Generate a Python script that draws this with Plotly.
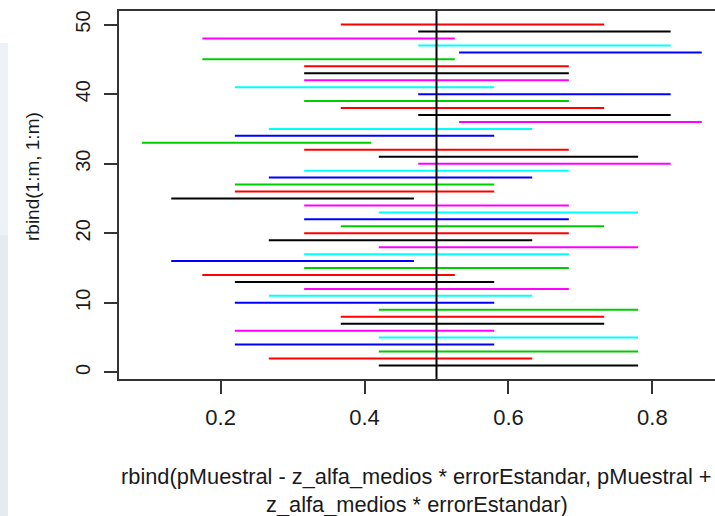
import plotly.graph_objects as go

# interval index (y) and endpoints (x)
idx = list(range(1, 51))
lower = [0.4198, 0.2670, 0.4198, 0.2198, 0.4198, 0.2198, 0.3670, 0.3670, 0.4198, 0.2198,
         0.2670, 0.3161, 0.2198, 0.1746, 0.3161, 0.1314, 0.3161, 0.4198, 0.2670, 0.3161,
         0.3670, 0.3161, 0.4198, 0.3161, 0.1314, 0.2198, 0.2198, 0.2670, 0.3161, 0.4746,
         0.4198, 0.3161, 0.0907, 0.2198, 0.2670, 0.5314, 0.4746, 0.3670, 0.3161, 0.4746,
         0.2198, 0.3161, 0.3161, 0.3161, 0.1746, 0.5314, 0.4746, 0.1746, 0.4746, 0.3670]
upper = [0.7802, 0.6330, 0.7802, 0.5802, 0.7802, 0.5802, 0.7330, 0.7330, 0.7802, 0.5802,
         0.6330, 0.6839, 0.5802, 0.5254, 0.6839, 0.4686, 0.6839, 0.7802, 0.6330, 0.6839,
         0.7330, 0.6839, 0.7802, 0.6839, 0.4686, 0.5802, 0.5802, 0.6330, 0.6839, 0.8254,
         0.7802, 0.6839, 0.4093, 0.5802, 0.6330, 0.8686, 0.8254, 0.7330, 0.6839, 0.8254,
         0.5802, 0.6839, 0.6839, 0.6839, 0.5254, 0.8686, 0.8254, 0.5254, 0.8254, 0.7330]
p_true = 0.5
palette = ["#000000", "#FF0000", "#00CD00", "#0000FF", "#00FFFF", "#FF00FF"]
x_ticks = [0.2, 0.4, 0.6, 0.8]
y_ticks = [0, 10, 20, 30, 40, 50]

W, H = 715, 516
L, R, T, B = 119, 0, 11, 137
pw, ph = W - L - R, H - T - B

def px(xp):
    return (xp - L) / pw

def py(yp):
    return (H - B - yp) / ph

fig = go.Figure()
for c in range(6):
    xs, ys = [], []
    for k, i in enumerate(idx):
        if (i - 1) % 6 == c:
            xs += [lower[k], upper[k], None]
            ys += [i, i, None]
    fig.add_trace(go.Scatter(x=xs, y=ys, mode="lines", line=dict(color=palette[c], width=2),
                             showlegend=False, hoverinfo="skip"))

fig.add_shape(type="line", xref="x", yref="paper", x0=p_true, x1=p_true, y0=0, y1=1,
              line=dict(color="#000000", width=2), layer="above")

# faint left strip from the screenshot
fig.add_shape(type="rect", xref="paper", yref="paper", x0=px(0), x1=px(8), y0=py(235), y1=py(43),
              fillcolor="#eef1f6", line=dict(width=0), layer="below")
fig.add_shape(type="rect", xref="paper", yref="paper", x0=px(0), x1=px(8), y0=py(516), y1=py(235),
              fillcolor="#e6eaf1", line=dict(width=0), layer="below")

axcol = "#333333"
fig.update_layout(
    width=W, height=H, margin=dict(l=L, r=R, t=T, b=B),
    paper_bgcolor="white", plot_bgcolor="white",
    font=dict(family="Liberation Sans, Arial, sans-serif", color="#1a1a1a"),
    xaxis=dict(range=[0.0588, 0.887], tickvals=x_ticks, ticktext=[str(v) for v in x_ticks],
               showgrid=False, zeroline=False, showline=True, linecolor=axcol, linewidth=2,
               mirror=True, ticks="outside", ticklen=13, tickwidth=2, tickcolor=axcol,
               tickfont=dict(size=22), ticklabelstandoff=5),
    yaxis=dict(range=[-0.95, 51.95], tickvals=y_ticks, ticktext=[str(v) for v in y_ticks],
               showgrid=False, zeroline=False, showline=True, linecolor=axcol, linewidth=2,
               ticks="outside", ticklen=13, tickwidth=2, tickcolor=axcol,
               tickangle=-90, tickfont=dict(size=20), ticklabelstandoff=6),
)

fig.add_annotation(text="rbind(pMuestral - z_alfa_medios * errorEstandar, pMuestral +",
                   xref="paper", yref="paper", x=px(416), y=py(476), showarrow=False,
                   xanchor="center", yanchor="middle", font=dict(size=21.8))
fig.add_annotation(text="z_alfa_medios * errorEstandar)",
                   xref="paper", yref="paper", x=px(417), y=py(504), showarrow=False,
                   xanchor="center", yanchor="middle", font=dict(size=21.8))
fig.add_annotation(text="rbind(1:m, 1:m)", textangle=-90,
                   xref="paper", yref="paper", x=px(32), y=py(177), showarrow=False,
                   xanchor="center", yanchor="middle", font=dict(size=19))

fig.write_html("out.html", config={"displayModeBar": False},
               post_script="document.body.style.margin='0';document.body.style.overflow='hidden';")
